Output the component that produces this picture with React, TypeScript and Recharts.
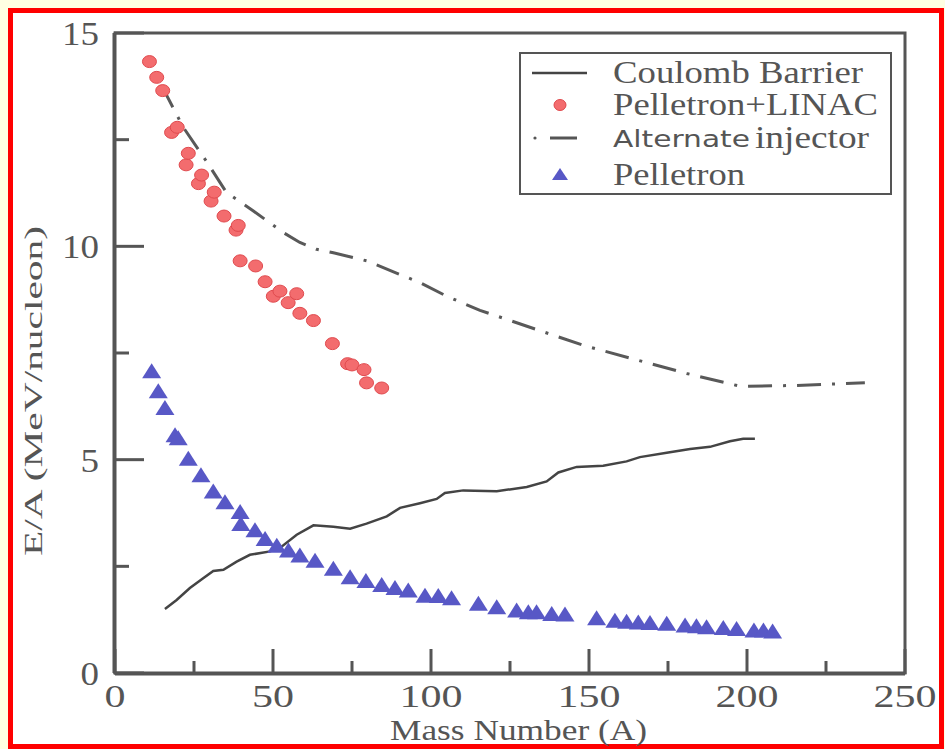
import React from "react";
import {
  ComposedChart,
  Line,
  Scatter,
  XAxis,
  YAxis,
  Legend,
  Label,
  ReferenceArea,
} from "recharts";

// values
const coulombMass = [15.8, 19.5, 23.7, 27.9, 31.1, 34.3, 38.5, 42.7, 49.1, 52.7, 57.5, 62.8, 69.1, 74.4, 79.6, 86.0, 90.2, 96.5, 101.8, 104.4, 110.2, 120.8, 130.3, 136.6, 140.3, 146.1, 154.5, 161.9, 166.1, 174.6, 182.0, 188.3, 194.6, 198.8, 202.5];
const coulombEnergy = [1.5, 1.71, 1.99, 2.22, 2.39, 2.42, 2.61, 2.77, 2.85, 2.96, 3.24, 3.46, 3.43, 3.38, 3.5, 3.67, 3.87, 3.98, 4.08, 4.22, 4.28, 4.26, 4.36, 4.49, 4.7, 4.83, 4.86, 4.96, 5.06, 5.16, 5.25, 5.3, 5.43, 5.49, 5.49];

const linacMass = [10.9, 13.2, 15.1, 17.9, 19.7, 22.5, 23.2, 26.4, 27.4, 30.4, 31.4, 34.5, 38.3, 39.0, 39.6, 44.5, 47.5, 50.1, 52.2, 54.8, 57.5, 58.5, 62.8, 68.8, 73.6, 75.0, 78.8, 79.6, 84.4];
const linacEnergy = [14.33, 13.96, 13.65, 12.67, 12.79, 11.91, 12.18, 11.47, 11.67, 11.06, 11.27, 10.71, 10.38, 10.49, 9.66, 9.54, 9.17, 8.83, 8.95, 8.68, 8.89, 8.43, 8.26, 7.72, 7.25, 7.22, 7.11, 6.8, 6.68];

const altMass = [14.8, 21.6, 28.5, 35.3, 43.8, 53.3, 58.5, 63.8, 69.1, 79.6, 84.9, 96.5, 105.0, 115.5, 148.2, 180.9, 197.8, 215.7, 237.3];
const altEnergy = [13.76, 12.79, 12.04, 11.26, 10.83, 10.32, 10.09, 9.93, 9.85, 9.66, 9.5, 9.15, 8.83, 8.5, 7.68, 7.02, 6.72, 6.74, 6.8];

const pelMass = [11.6, 13.7, 15.8, 19.0, 20.0, 23.2, 27.2, 31.1, 34.8, 39.6, 39.8, 44.3, 47.5, 51.2, 54.9, 58.5, 63.3, 69.1, 74.4, 79.4, 84.4, 88.6, 92.8, 98.1, 102.3, 106.5, 115.0, 120.8, 127.1, 130.8, 133.4, 138.2, 142.4, 152.4, 158.2, 161.9, 165.6, 169.3, 174.6, 180.4, 184.0, 187.2, 192.5, 196.7, 202.2, 205.2, 208.1];
const pelEnergy = [7.05, 6.58, 6.19, 5.55, 5.48, 5.0, 4.61, 4.23, 3.98, 3.75, 3.47, 3.32, 3.12, 2.96, 2.85, 2.73, 2.61, 2.42, 2.22, 2.13, 2.04, 1.97, 1.91, 1.79, 1.78, 1.73, 1.6, 1.52, 1.44, 1.4, 1.4, 1.36, 1.35, 1.26, 1.2, 1.18, 1.16, 1.15, 1.13, 1.09, 1.07, 1.05, 1.03, 1.01, 0.97, 0.97, 0.95];

const xMajorTicks = [0, 50, 100, 150, 200, 250];
const xMinorTicks = [25, 75, 125, 175, 225];
const yMajorTicks = [0, 5, 10, 15];
const yMinorTicks = [2.5, 7.5, 12.5];

const toPoints = (xs: number[], ys: number[]) => xs.map((a, i) => ({ a, e: ys[i] }));

const coulomb = toPoints(coulombMass, coulombEnergy);
const linac = toPoints(linacMass, linacEnergy);
const alternate = toPoints(altMass, altEnergy);
const pelletron = toPoints(pelMass, pelEnergy);

const AXIS = "#555555";
const TEXT = "#555555";
const SERIF = "Times New Roman, Liberation Serif, Tinos, serif";
const SANS = "DejaVu Sans, Verdana, sans-serif";
const RED_FILL = "#F36C6E";
const RED_EDGE = "#E04A4E";
const BLUE = "#5858C6";
const ALT_DASH = "24 11 3 11";

const MAJOR_X = 25;
const MAJOR_Y = 30;

// tick lines come from recharts (negative tickSize = inward), these only place the labels
const XLabelTick = (props: any) => {
  const { x, y, payload } = props;
  const label = String(payload.value);
  const w = label.length * 21;
  return (
    <text
      x={x - w / 2}
      y={y + MAJOR_X + 33}
      style={{ fontFamily: SERIF }}
      fontSize={32}
      fill={TEXT}
      textLength={w}
      lengthAdjust="spacingAndGlyphs"
    >
      {label}
    </text>
  );
};

const YLabelTick = (props: any) => {
  const { x, y, payload } = props;
  const label = String(payload.value);
  const w = label.length * 18.5;
  return (
    <text
      x={x - MAJOR_Y - 15 - w}
      y={y + 12}
      style={{ fontFamily: SERIF }}
      fontSize={34}
      fill={TEXT}
      textLength={w}
      lengthAdjust="spacingAndGlyphs"
    >
      {label}
    </text>
  );
};

const NoLabel = () => <g />;

const XTitle = () => (
  <text
    x={390}
    y={740}
    style={{ fontFamily: SERIF }}
    fontSize={29}
    fill={TEXT}
    textLength={257}
    lengthAdjust="spacingAndGlyphs"
  >
    Mass Number (A)
  </text>
);

const YTitle = () => (
  <text
    transform="translate(42, 556) rotate(-90)"
    x={0}
    y={0}
    style={{ fontFamily: SERIF }}
    fontSize={26}
    fill={TEXT}
    textLength={330}
    lengthAdjust="spacingAndGlyphs"
  >
    E/A (MeV/nucleon)
  </text>
);

const RedDot = (p: any) => (
  <ellipse cx={p.cx} cy={p.cy} rx={7} ry={6} fill={RED_FILL} stroke={RED_EDGE} strokeWidth={1} />
);

const BlueTri = (p: any) => {
  const { cx, cy } = p;
  return (
    <polygon
      points={`${cx},${cy - 9} ${cx - 9.5},${cy + 6} ${cx + 9.5},${cy + 6}`}
      fill={BLUE}
    />
  );
};

const legendText = (s: string, x: number, y: number, len: number, family = SERIF, size = 31) => (
  <text
    x={x}
    y={y}
    style={{ fontFamily: family }}
    fontSize={size}
    fill={TEXT}
    textLength={len}
    lengthAdjust="spacingAndGlyphs"
  >
    {s}
  </text>
);

const LegendBox = () => (
  <svg width={373} height={143} style={{ display: "block" }}>
    <rect x={1} y={1} width={371} height={141} fill="#fff" stroke={AXIS} strokeWidth={2} />
    {/* Coulomb Barrier */}
    <line x1={13} y1={21} x2={68} y2={21} stroke="#444" strokeWidth={2.5} />
    {legendText("Coulomb Barrier", 94, 31, 250)}
    {/* Pelletron+LINAC */}
    <ellipse cx={41} cy={53} rx={6} ry={5.5} fill={RED_FILL} stroke={RED_EDGE} strokeWidth={1} />
    {legendText("Pelletron+LINAC", 94, 63, 265)}
    {/* Alternate injector */}
    <circle cx={16} cy={86} r={1.6} fill={AXIS} />
    <line x1={31} y1={86} x2={58} y2={86} stroke={AXIS} strokeWidth={3} />
    {legendText("Alternate", 94, 95, 137, SANS, 23)}
    {legendText("injector", 236, 96, 114)}
    {/* Pelletron */}
    <polygon points="41,116 33,128 49,128" fill={BLUE} />
    {legendText("Pelletron", 94, 133, 132)}
  </svg>
);

const tickStroke = { stroke: AXIS, strokeWidth: 3 };

export default function App() {
  return (
    <div
      style={{
        position: "absolute",
        left: 0,
        top: 0,
        width: 945,
        height: 749,
        background: "#FFFFE2",
        overflow: "hidden",
      }}
    >
      {/* red picture frame */}
      <div
        style={{
          position: "absolute",
          left: 8,
          top: 8,
          width: 926,
          height: 731,
          border: "5px solid #FF0000",
          background: "#FFFFFF",
        }}
      />
      <div style={{ position: "absolute", left: 0, top: 0 }}>
        <ComposedChart
          width={945}
          height={749}
          margin={{ top: 33, right: 40, bottom: 15, left: 0 }}
        >
          {/* minor ticks (default axis ids, used by the series); an axis of size 0 is not drawn */}
          <XAxis
            type="number"
            dataKey="a"
            domain={[0, 250]}
            ticks={xMinorTicks}
            allowDataOverflow
            height={1}
            axisLine={false}
            tickLine={tickStroke}
            tickSize={-12}
            tickMargin={0}
            tick={NoLabel}
            interval={0}
          />
          <YAxis
            type="number"
            domain={[0, 15]}
            ticks={yMinorTicks}
            allowDataOverflow
            width={1}
            axisLine={false}
            tickLine={tickStroke}
            tickSize={-14}
            tickMargin={0}
            tick={NoLabel}
            interval={0}
          />
          {/* major ticks with labels */}
          <XAxis
            xAxisId="major"
            type="number"
            dataKey="a"
            domain={[0, 250]}
            ticks={xMajorTicks}
            allowDataOverflow
            height={60}
            axisLine={{ stroke: AXIS, strokeWidth: 3 }}
            tickLine={tickStroke}
            tickSize={-MAJOR_X}
            tickMargin={0}
            tick={XLabelTick}
            interval={0}
          >
            <Label content={<XTitle />} />
          </XAxis>
          <YAxis
            yAxisId="major"
            type="number"
            domain={[0, 15]}
            ticks={yMajorTicks}
            allowDataOverflow
            width={114}
            axisLine={{ stroke: AXIS, strokeWidth: 3 }}
            tickLine={tickStroke}
            tickSize={-MAJOR_Y}
            tickMargin={0}
            tick={YLabelTick}
            interval={0}
          >
            <Label content={<YTitle />} />
          </YAxis>
          <ReferenceArea
            x1={0}
            x2={250}
            y1={0}
            y2={15}
            fill="none"
            fillOpacity={0}
            stroke={AXIS}
            strokeWidth={3}
            strokeOpacity={1}
          />
          <Line
            data={coulomb}
            dataKey="e"
            name="Coulomb Barrier"
            type="linear"
            stroke="#444444"
            strokeWidth={2.5}
            dot={false}
            activeDot={false}
            isAnimationActive={false}
          />
          <Scatter
            data={linac}
            dataKey="e"
            name="Pelletron+LINAC"
            shape={RedDot}
            isAnimationActive={false}
          />
          <Line
            data={alternate}
            dataKey="e"
            name="Alternate injector"
            type="linear"
            stroke="#595959"
            strokeWidth={3}
            strokeDasharray={ALT_DASH}
            dot={false}
            activeDot={false}
            isAnimationActive={false}
          />
          <Scatter
            data={pelletron}
            dataKey="e"
            name="Pelletron"
            shape={BlueTri}
            isAnimationActive={false}
          />
          <Legend
            layout="vertical"
            align="center"
            verticalAlign="middle"
            wrapperStyle={{ left: 519, top: 52, width: 373, height: 143 }}
            content={<LegendBox />}
          />
        </ComposedChart>
      </div>
    </div>
  );
}
